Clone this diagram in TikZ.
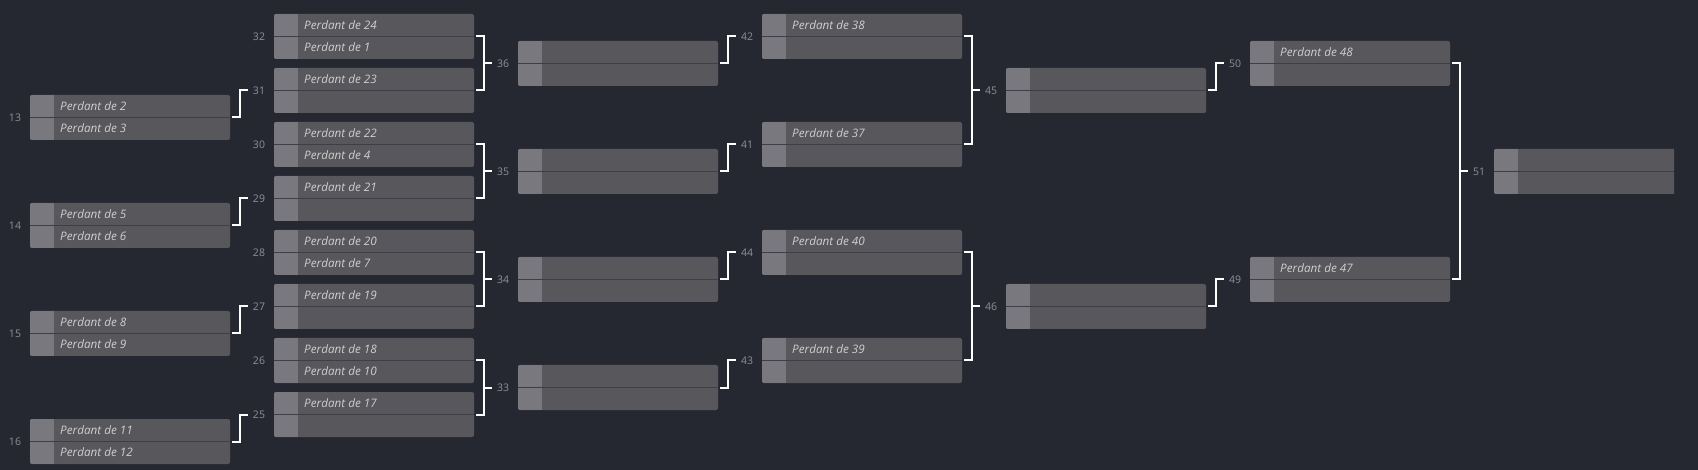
\documentclass[tikz,border=0pt]{standalone}
\usepackage{fontspec}
\setsansfont{Open Sans}
\usetikzlibrary{calc}
\definecolor{bgcol}{HTML}{262831}
\definecolor{boxcol}{HTML}{57575C}
\definecolor{sqcol}{HTML}{78787E}
\definecolor{divcol}{HTML}{3E3F46}
\definecolor{txtcol}{HTML}{CFCFD1}
\definecolor{lblcol}{HTML}{8C9199}
\tikzset{
  mbox/.style={rectangle, fill=boxcol, minimum width=200pt, minimum height=45pt, inner sep=0pt, outer sep=0pt, rounded corners=2pt},
  ptxt/.style={anchor=west, inner sep=0pt, text=txtcol, font=\sffamily\itshape\fontsize{11.7}{13}\selectfont, text height=8.4pt, text depth=0pt},
  lbl/.style={text=lblcol, font=\sffamily\fontsize{10.5}{12}\selectfont, inner sep=0pt},
  link/.style={draw=white, line width=2pt, line join=miter}
}
\newcommand\matchbox[5]{%
  \node[mbox, anchor=north west] (b#1) at (#2,#3) {};
  \begin{scope}
    \clip[rounded corners=2pt] (b#1.south west) rectangle (b#1.north east);
    \fill[sqcol] (b#1.south west) rectangle ([xshift=24pt]b#1.north west);
  \end{scope}
  \draw[divcol, line width=1pt] (b#1.west) -- (b#1.east);
  \node[ptxt] (t#1a) at ([xshift=30pt, yshift=11.25pt]b#1.west) {#4};
  \node[ptxt] (t#1b) at ([xshift=30pt, yshift=-11.25pt]b#1.west) {#5};
  \node[lbl] (l#1) at ([xshift=-15pt]b#1.west) {#1};
}
\newcommand\feedone[2]{%
  \draw[link] ([xshift=2pt]b#1.east) -- ++(8,0) |- ([xshift=-26pt]b#2.west);
}
\newcommand\feedtwo[3]{%
  \draw[link] ([xshift=2pt]b#1.east) -- ([xshift=10pt]b#1.east) -- ([xshift=10pt]b#2.east) -- ([xshift=2pt]b#2.east);
  \draw[link] ([xshift=-26pt]b#3.west) -- ++(-8,0);
}
\begin{document}
\begin{tikzpicture}[x=1pt,y=-1pt]
  \fill[bgcol] (0,0) rectangle (1698,470);
  \useasboundingbox (0,0) rectangle (1698,470);
  % column 0
  \matchbox{13}{30}{95}{Perdant de 2}{Perdant de 3}
  \matchbox{14}{30}{203}{Perdant de 5}{Perdant de 6}
  \matchbox{15}{30}{311}{Perdant de 8}{Perdant de 9}
  \matchbox{16}{30}{419}{Perdant de 11}{Perdant de 12}
  % column 1
  \matchbox{32}{274}{14}{Perdant de 24}{Perdant de 1}
  \matchbox{31}{274}{68}{Perdant de 23}{}
  \matchbox{30}{274}{122}{Perdant de 22}{Perdant de 4}
  \matchbox{29}{274}{176}{Perdant de 21}{}
  \matchbox{28}{274}{230}{Perdant de 20}{Perdant de 7}
  \matchbox{27}{274}{284}{Perdant de 19}{}
  \matchbox{26}{274}{338}{Perdant de 18}{Perdant de 10}
  \matchbox{25}{274}{392}{Perdant de 17}{}
  % column 2
  \matchbox{36}{518}{41}{}{}
  \matchbox{35}{518}{149}{}{}
  \matchbox{34}{518}{257}{}{}
  \matchbox{33}{518}{365}{}{}
  % column 3
  \matchbox{42}{762}{14}{Perdant de 38}{}
  \matchbox{41}{762}{122}{Perdant de 37}{}
  \matchbox{44}{762}{230}{Perdant de 40}{}
  \matchbox{43}{762}{338}{Perdant de 39}{}
  % column 4
  \matchbox{45}{1006}{68}{}{}
  \matchbox{46}{1006}{284}{}{}
  % column 5
  \matchbox{50}{1250}{41}{Perdant de 48}{}
  \matchbox{49}{1250}{257}{Perdant de 47}{}
  % column 6
  \begin{scope}
    \clip (0,0) rectangle (1674,470);
    \matchbox{51}{1494}{149}{}{}
  \end{scope}
  % connectors
  \feedone{13}{31}
  \feedone{14}{29}
  \feedone{15}{27}
  \feedone{16}{25}
  \feedtwo{32}{31}{36}
  \feedtwo{30}{29}{35}
  \feedtwo{28}{27}{34}
  \feedtwo{26}{25}{33}
  \feedone{36}{42}
  \feedone{35}{41}
  \feedone{34}{44}
  \feedone{33}{43}
  \feedtwo{42}{41}{45}
  \feedtwo{44}{43}{46}
  \feedone{45}{50}
  \feedone{46}{49}
  \feedtwo{50}{49}{51}
\end{tikzpicture}
\end{document}
